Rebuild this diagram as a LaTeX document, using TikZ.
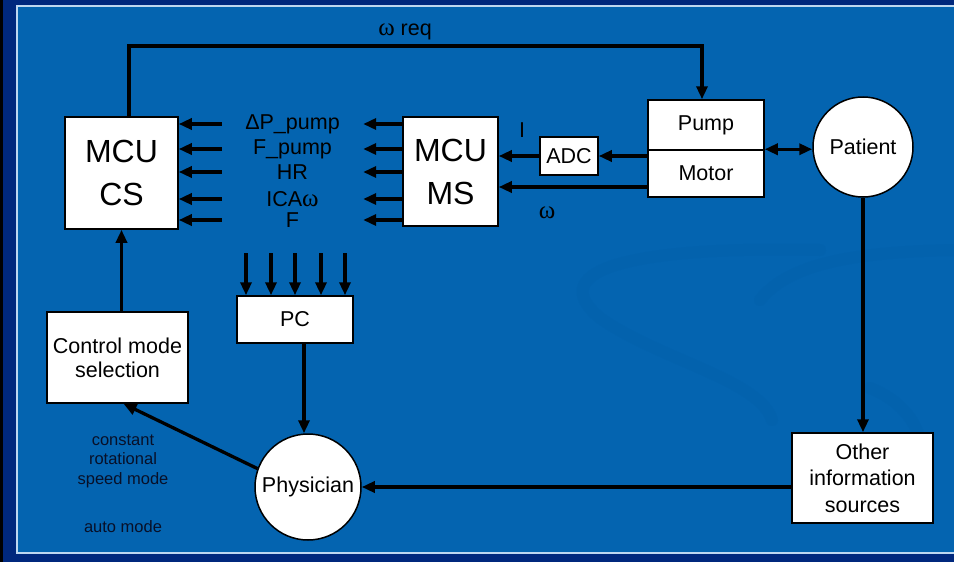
\documentclass[tikz,border=0pt]{standalone}
\usepackage{fontspec}
\setmainfont{Liberation Sans}
\newfontfamily\greekfont{Liberation Serif}
\usetikzlibrary{positioning, shapes.geometric, arrows.meta, calc}
\definecolor{framenavy}{RGB}{0, 40, 125}
\definecolor{panelblue}{RGB}{4, 100, 176}
\definecolor{panelline}{RGB}{190, 215, 240}
\definecolor{swooshblue}{RGB}{0, 88, 160}
\definecolor{labeltext}{RGB}{8, 16, 40}
\newcommand{\om}{{\greekfont\fontsize{25}{26}\selectfont ω}}

\begin{document}
\begin{tikzpicture}[
                x=1pt, y=-1pt,
                box/.style={draw=black, line width=1.5pt, fill=white, inner sep=0pt, align=center, font=\fontsize{21.5}{26}\selectfont},
                bigbox/.style={box, font=\fontsize{32}{43}\selectfont},
                circ/.style={box, circle},
                conn/.style={line width=3.3pt, draw=black},
                arr/.style={conn, -{Triangle[length=13pt, width=11pt]}},
                arrboth/.style={conn, {Triangle[length=13pt, width=11pt]}-{Triangle[length=13pt, width=11pt]}},
                sig/.style={inner sep=0pt, minimum width=141pt, align=center, font=\fontsize{21.5}{24}\selectfont},
                note/.style={inner sep=0pt, align=center, text=labeltext, font=\fontsize{16.5}{19.5}\selectfont},
                swoosh/.style={line width=12pt, draw=swooshblue, opacity=0.15, line cap=round}
            ]
                \useasboundingbox (0,0) rectangle (954,562);

                % slide background
                \fill[framenavy] (0,0) rectangle (954,562);
                \fill[black] (0,0) rectangle (3,562);
                \fill[panelblue] (17,6) rectangle (954,553);
                \draw[panelline, line width=1.2pt] (954,6) -- (17,6) -- (17,553) -- (954,553);
                \draw[swoosh] (820,250) .. controls (640,246) and (540,268) .. (600,318) .. controls (660,360) and (760,380) .. (772,420);
                \draw[swoosh] (760,300) .. controls (790,262) and (860,252) .. (954,250);
                \draw[swoosh] (870,388) .. controls (900,400) and (915,420) .. (920,440);

                % blocks
                \node[bigbox, minimum width=113pt, minimum height=112pt] (cs) at (121.5,173) {MCU\\CS};
                \node[bigbox, minimum width=95pt, minimum height=109pt] (ms) at (450.5,171.5) {MCU\\MS};
                \node[box, minimum width=116pt, minimum height=50pt] (pump) at (706,125) {Pump};
                \node[box, minimum width=116pt, minimum height=47pt] (motor) at (706,173.5) {Motor};
                \node[box, minimum width=58pt, minimum height=38pt] (adc) at (569,156) {ADC};
                \node[circ, minimum size=100pt] (patient) at (863,147) {Patient};
                \node[box, minimum width=116pt, minimum height=47pt] (pc) at (295,319.5) {PC};
                \node[circ, minimum size=106pt] (physician) at (308,487) {Physician};
                \node[box, minimum width=141pt, minimum height=91pt, font=\fontsize{21.5}{24}\selectfont] (cms) at (117.5,357.5) {Control mode\\selection};
                \node[box, minimum width=141pt, minimum height=90pt, font=\fontsize{21.5}{26.5}\selectfont] (other) at (862.5,478) {Other\\information\\sources};

                % omega req
                \coordinate (reqleft) at (129,46);
                \coordinate (reqright) at (702,46);
                \draw[arr] (cs.north -| reqleft) -- (reqleft) -- (reqright) -- (pump.north -| reqright);
                \node[sig] (req) at (405,32) {\om{} req};

                % motor side
                \draw[arr] (motor.west |- adc) -- (adc.east);
                \draw[arr] (adc.west) -- (adc.west -| ms.east);
                \draw[arr] ([yshift=-13.5pt]motor.west) -- ([yshift=-13.5pt]motor.west -| ms.east);
                \draw[arrboth] (motor.north east) -- (motor.north east -| patient.west);
                \node[sig, minimum width=0pt] (cur) at (522,130) {I};
                \node[sig, minimum width=0pt] (speed) at (547,213) {\om};

                % signals MS -> CS
                \node[sig] (dp) at (292.5,124) {ΔP\_pump};
                \draw[arr] (ms.west |- dp) -- (dp.east);
                \draw[arr] (dp.west) -- (dp.west -| cs.east);

                \node[sig] (fp) at (292.5,149) {F\_pump};
                \draw[arr] (ms.west |- fp) -- (fp.east);
                \draw[arr] (fp.west) -- (fp.west -| cs.east);

                \node[sig] (hr) at (292.5,172) {HR};
                \draw[arr] (ms.west |- hr) -- (hr.east);
                \draw[arr] (hr.west) -- (hr.west -| cs.east);

                \node[sig] (ica) at (292.5,199) {ICA\om};
                \draw[arr] (ms.west |- ica) -- (ica.east);
                \draw[arr] (ica.west) -- (ica.west -| cs.east);

                \node[sig] (flow) at (292.5,220) {F};
                \draw[arr] (ms.west |- flow) -- (flow.east);
                \draw[arr] (flow.west) -- (flow.west -| cs.east);

                % PC inputs
                \coordinate (in1) at (246,253);
                \coordinate (in2) at (271,253);
                \coordinate (in3) at (295,253);
                \coordinate (in4) at (321,253);
                \coordinate (in5) at (345,253);
                \draw[arr] (in1) -- (in1 |- pc.north);
                \draw[arr] (in2) -- (in2 |- pc.north);
                \draw[arr] (in3) -- (in3 |- pc.north);
                \draw[arr] (in4) -- (in4 |- pc.north);
                \draw[arr] (in5) -- (in5 |- pc.north);

                % feedback loop
                \draw[arr] ([xshift=9pt]pc.south) -- ([xshift=9pt]pc.south |- physician.north);
                \draw[arr] (cs.south |- cms.north) -- (cs.south);
                \draw[arr] (physician.160) -- ([xshift=6pt]cms.south);
                \draw[arr] (patient.south) -- (patient.south |- other.north);
                \draw[arr] (other.west |- physician.east) -- (physician.east);

                % modes
                \node[note] (constmode) at (123,461) {constant\\rotational\\speed mode};
                \node[note] (automode) at (123,527) {auto mode};
            \end{tikzpicture}
\end{document}
